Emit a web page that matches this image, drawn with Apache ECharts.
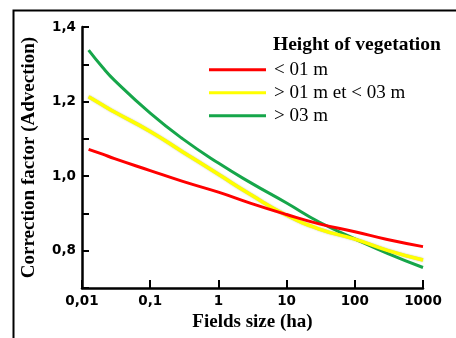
<!DOCTYPE html>
<html>
<head>
<meta charset="utf-8">
<script src="https://cdn.jsdelivr.net/npm/echarts@6/dist/echarts.min.js"></script>
<style>
  html, body { margin: 0; padding: 0; background: #fff; }
  #chart { width: 456px; height: 338px; }
</style>
</head>
<body>
<div id="chart"></div>
<script>
// field size (ha), log scale
const fieldSizes = [0.0125, 0.02, 0.03, 0.1, 0.3, 1, 3, 10, 30, 100, 300, 1000];
const seriesNames = ["< 01 m", "> 01 m et < 03 m", "> 03 m"];
const lowVeg = [1.072, 1.059, 1.047, 1.015, 0.986, 0.957, 0.927, 0.897, 0.872, 0.851, 0.830, 0.811];
const midVeg = [1.213, 1.191, 1.172, 1.120, 1.065, 1.005, 0.950, 0.895, 0.858, 0.831, 0.801, 0.775];
const highVeg = [1.338, 1.292, 1.257, 1.169, 1.100, 1.035, 0.982, 0.928, 0.877, 0.832, 0.793, 0.755];
const xTickLabels = { 0.01: "0,01", 0.1: "0,1", 1: "1", 10: "10", 100: "100", 1000: "1000" };
const yTickLabels = { "0.8": "0,8", "1.0": "1,0", "1.2": "1,2", "1.4": "1,4" };

const colors = ["#ff0000", "#ffff00", "#16a64a"];
const serif = "'Liberation Serif', 'Times New Roman', serif";
const sans = "'DejaVu Sans', sans-serif";

const toPairs = (ys) => fieldSizes.map((x, i) => [x, ys[i]]);

const chart = echarts.init(document.getElementById("chart"));

const option = {
  animation: false,
  title: {
    text: "Height of vegetation",
    left: 273,
    top: 35,
    padding: 0,
    textStyle: { fontFamily: serif, fontWeight: "bold", fontSize: 19.5, color: "#000" },
  },
  legend: {
    orient: "vertical",
    left: 209,
    top: 60,
    padding: 0,
    itemWidth: 57,
    itemHeight: 3,
    itemGap: 3.5,
    icon: "rect",
    data: seriesNames,
    textStyle: {
      fontFamily: serif,
      fontSize: 19,
      color: "#000",
      lineHeight: 19.5,
      padding: [0, 0, 0, 3],
    },
  },
  graphic: [
    {
      type: "rect",
      left: 11,
      top: 8,
      shape: { width: 480, height: 360 },
      style: { fill: "none", stroke: "#000", lineWidth: 2 },
      silent: true,
    },
  ],
  grid: { left: 82, right: 33, top: 27, bottom: 50 },
  xAxis: {
    type: "log",
    logBase: 10,
    min: 0.01,
    max: 1000,
    name: "Fields size (ha)",
    nameLocation: "middle",
    nameGap: 24,
    nameTextStyle: { fontFamily: serif, fontWeight: "bold", fontSize: 19, color: "#000" },
    axisLine: { lineStyle: { color: "#000", width: 2.5 } },
    axisTick: { inside: true, length: 8, lineStyle: { color: "#000", width: 2 } },
    minorTick: { show: false },
    splitLine: { show: false },
    axisLabel: {
      margin: 6,
      fontFamily: sans,
      fontWeight: "bold",
      fontSize: 13.5,
      color: "#000",
      formatter: (v) => xTickLabels[v] !== undefined ? xTickLabels[v] : "",
    },
  },
  yAxis: {
    type: "value",
    min: 0.7,
    max: 1.4,
    interval: 0.1,
    name: "Correction factor (Advection)",
    nameLocation: "middle",
    nameGap: 43,
    nameTextStyle: { fontFamily: serif, fontWeight: "bold", fontSize: 19, color: "#000" },
    axisLine: { show: true, lineStyle: { color: "#000", width: 2.5 } },
    axisTick: { show: true, inside: true, length: 7, lineStyle: { color: "#000", width: 2 } },
    splitLine: { show: false },
    axisLabel: {
      margin: 6,
      fontFamily: sans,
      fontWeight: "bold",
      fontSize: 13.5,
      color: "#000",
      formatter: (v) => yTickLabels[v.toFixed(1)] || "",
    },
  },
  series: [lowVeg, midVeg, highVeg].map((ys, i) => ({
    name: seriesNames[i],
    type: "line",
    smooth: true,
    showSymbol: false,
    data: toPairs(ys),
    color: colors[i],
    lineStyle: i === 1
      ? { width: 3.5, color: colors[i], shadowColor: "rgba(120,120,0,0.5)", shadowBlur: 1.5 }
      : { width: 3, color: colors[i] },
    z: 3 - i,
  })),
};

chart.setOption(option);
</script>
</body>
</html>
